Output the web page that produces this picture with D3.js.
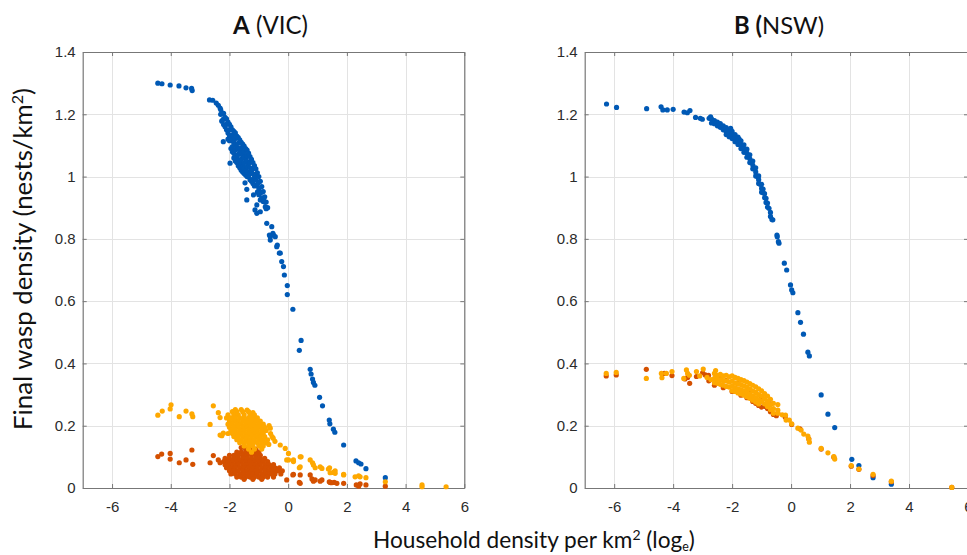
<!DOCTYPE html>
<html>
<head>
<meta charset="utf-8">
<script src="https://cdn.jsdelivr.net/npm/d3@7"></script>
<style>
  body { margin: 0; background: #fff; }
  svg { display: block; }
  .tick-label { font-family: "Liberation Sans", Arial, sans-serif; font-size: 15px; fill: #2b2b2b; }
  .label { font-family: Lato, "Open Sans", sans-serif; fill: #111; }
</style>
</head>
<body>
<svg id="chart" width="967" height="555"></svg>
<script>
'use strict';

// axis ticks
var xTicks = [-6, -4, -2, 0, 2, 4, 6];
var xTickLabels = ["-6", "-4", "-2", "0", "2", "4", "6"];
var yTicks = [0, 0.2, 0.4, 0.6, 0.8, 1, 1.2, 1.4];
var yTickLabels = ["0", "0.2", "0.4", "0.6", "0.8", "1", "1.2", "1.4"];

// panel A (VIC) - [log household density, final wasp density]
var vicBlue = [
  [-4.44,1.300],[-4.30,1.298],[-4.02,1.294],[-3.72,1.291],[-3.48,1.285],[-3.27,1.276],[-3.29,1.283],
  [-2.68,1.246],[-2.57,1.245],[-2.45,1.236],[-2.38,1.229],[-2.32,1.220],
  [-2.30,1.215],[-2.30,1.200],[-2.25,1.205],[-2.25,1.180],
  [-2.20,1.203],[-2.20,1.185],[-2.20,1.167],[-2.15,1.190],[-2.15,1.160],
  [-2.10,1.185],[-2.10,1.168],[-2.10,1.150],[-2.05,1.175],[-2.05,1.140],[-2.05,1.120],
  [-2.00,1.168],[-2.00,1.150],[-2.00,1.132],[-2.00,1.115],
  [-1.95,1.160],[-1.95,1.120],[-1.95,1.090],
  [-1.90,1.150],[-1.90,1.132],[-1.90,1.114],[-1.90,1.096],[-1.90,1.080],
  [-1.85,1.145],[-1.85,1.110],[-1.85,1.075],[-1.85,1.060],
  [-1.80,1.140],[-1.80,1.122],[-1.80,1.104],[-1.80,1.086],[-1.80,1.068],[-1.80,1.050],
  [-1.75,1.130],[-1.75,1.095],[-1.75,1.060],[-1.75,1.045],
  [-1.70,1.125],[-1.70,1.107],[-1.70,1.089],[-1.70,1.071],[-1.70,1.053],[-1.70,1.035],
  [-1.65,1.118],[-1.65,1.080],[-1.65,1.045],[-1.65,1.028],
  [-1.60,1.110],[-1.60,1.092],[-1.60,1.074],[-1.60,1.056],[-1.60,1.038],[-1.60,1.020],
  [-1.55,1.104],[-1.55,1.068],[-1.55,1.032],[-1.55,1.015],
  [-1.50,1.098],[-1.50,1.080],[-1.50,1.062],[-1.50,1.044],[-1.50,1.026],[-1.50,1.010],
  [-1.45,1.090],[-1.45,1.055],[-1.45,1.020],[-1.45,1.005],
  [-1.40,1.085],[-1.40,1.067],[-1.40,1.049],[-1.40,1.031],[-1.40,1.015],[-1.40,1.000],
  [-1.35,1.075],[-1.35,1.040],[-1.35,1.000],
  [-1.30,1.064],[-1.30,1.046],[-1.30,1.028],[-1.30,1.010],[-1.30,0.990],
  [-1.25,1.055],[-1.25,1.018],[-1.25,0.985],
  [-1.20,1.045],[-1.20,1.027],[-1.20,1.009],[-1.20,0.991],[-1.20,0.978],
  [-1.15,1.035],[-1.15,0.998],[-1.15,0.970],
  [-1.10,1.025],[-1.10,1.007],[-1.10,0.989],[-1.10,0.972],
  [-1.05,1.012],[-1.05,0.975],[-1.05,0.950],
  [-1.00,1.000],[-1.00,0.982],[-1.00,0.962],[-1.00,0.942],
  [-0.95,0.985],[-0.95,0.948],[-0.95,0.925],
  [-0.90,0.968],[-0.90,0.950],[-0.90,0.932],
  [-0.85,0.952],[-0.85,0.920],[-0.80,0.935],[-0.80,0.918],
  [-0.75,0.918],[-0.75,0.897],[-0.70,0.900],
  [-2.26,1.178],[-2.21,1.112],[-1.98,1.043],[-1.47,0.980],[-1.41,0.959],[-1.41,0.925],
  [-1.13,0.893],[-1.07,0.882],[-1.18,0.941],[-1.07,0.909],[-0.95,0.887],[-0.84,0.925],
  [-0.78,0.903],[-0.73,0.850],[-0.64,0.812],[-0.61,0.807],[-0.61,0.796],[-0.52,0.818],
  [-0.50,0.812],[-0.56,0.839],[-0.44,0.807],[-0.39,0.775],[-0.37,0.780],[-0.30,0.754],
  [-0.27,0.754],[-0.22,0.727],[-0.16,0.711],[-0.13,0.684],
  [-0.03,0.650],[-0.03,0.621],[0.16,0.574],[0.44,0.474],[0.38,0.442],[0.75,0.381],
  [0.78,0.366],[0.83,0.350],[0.86,0.339],[0.91,0.330],[1.07,0.291],[1.17,0.264],
  [1.40,0.218],[1.42,0.206],[1.54,0.189],[1.59,0.179],[1.89,0.138],[2.31,0.087],
  [2.40,0.081],[2.48,0.077],[2.65,0.062],[3.31,0.033]
];

var vicRed = [
  [-4.44,0.101],[-4.31,0.109],[-4.02,0.111],[-4.02,0.093],[-3.71,0.081],[-3.48,0.090],
  [-3.28,0.122],[-3.25,0.076],[-2.66,0.081],[-2.55,0.104],[-2.38,0.090],[-2.32,0.081],
  [-1.45,0.125],[-1.30,0.125],[-1.10,0.125],[-1.60,0.130],[-1.25,0.132],
  [-1.75,0.115],[-1.60,0.115],[-1.45,0.115],[-1.30,0.115],[-1.15,0.115],[-1.00,0.115],
  [-2.00,0.105],[-1.85,0.105],[-1.70,0.105],[-1.55,0.105],[-1.40,0.105],[-1.25,0.105],[-1.10,0.105],[-0.95,0.105],
  [-2.15,0.095],[-2.00,0.095],[-1.85,0.095],[-1.70,0.095],[-1.55,0.095],[-1.40,0.095],[-1.25,0.095],[-1.10,0.095],[-0.95,0.095],[-0.80,0.095],
  [-2.20,0.085],[-2.05,0.085],[-1.90,0.085],[-1.75,0.085],[-1.60,0.085],[-1.45,0.085],[-1.30,0.085],[-1.15,0.085],[-1.00,0.085],[-0.85,0.085],[-0.70,0.085],
  [-2.15,0.075],[-2.00,0.075],[-1.85,0.075],[-1.70,0.075],[-1.55,0.075],[-1.40,0.075],[-1.25,0.075],[-1.10,0.075],[-0.95,0.075],[-0.80,0.075],[-0.65,0.075],[-0.50,0.075],
  [-2.10,0.065],[-1.95,0.065],[-1.80,0.065],[-1.65,0.065],[-1.50,0.065],[-1.35,0.065],[-1.20,0.065],[-1.05,0.065],[-0.90,0.065],[-0.75,0.065],[-0.60,0.065],[-0.45,0.065],[-0.30,0.065],
  [-2.00,0.055],[-1.85,0.055],[-1.70,0.055],[-1.55,0.055],[-1.40,0.055],[-1.25,0.055],[-1.10,0.055],[-0.95,0.055],[-0.80,0.055],[-0.65,0.055],[-0.50,0.055],[-0.35,0.055],[-0.20,0.055],
  [-1.95,0.045],[-1.80,0.045],[-1.65,0.045],[-1.50,0.045],[-1.35,0.045],[-1.20,0.045],[-1.05,0.045],[-0.90,0.045],[-0.75,0.045],[-0.60,0.045],[-0.45,0.045],[-0.25,0.045],
  [-1.75,0.035],[-1.60,0.035],[-1.45,0.035],[-1.30,0.035],[-1.15,0.035],[-1.00,0.035],[-0.85,0.035],[-0.70,0.035],[-0.50,0.035],
  [-1.50,0.028],[-1.20,0.028],[-0.90,0.028],
  [-0.05,0.026],[0.16,0.042],[0.18,0.044],[0.38,0.018],[0.41,0.042],[0.41,0.015],[0.75,0.042],
  [0.81,0.029],[0.86,0.022],[0.92,0.026],[1.09,0.022],[1.15,0.026],[1.40,0.020],[1.43,0.018],
  [1.47,0.017],[1.57,0.018],[1.66,0.015],[1.89,0.015],[2.32,0.010],[2.40,0.006],[2.45,0.013],
  [2.65,0.010],[3.31,0.006]
];

var vicYellow = [
  [-4.44,0.234],[-4.29,0.247],[-4.02,0.254],[-3.99,0.267],[-3.71,0.229],[-3.48,0.247],
  [-3.28,0.238],[-3.25,0.229],[-2.66,0.204],[-2.55,0.264],[-2.38,0.242],[-2.32,0.226],
  [-2.26,0.168],[-2.21,0.176],[-2.32,0.170],
  [-1.80,0.252],[-1.60,0.252],[-1.40,0.250],
  [-1.90,0.245],[-1.75,0.245],[-1.55,0.245],[-1.35,0.245],[-1.20,0.242],
  [-2.05,0.235],[-1.85,0.235],[-1.70,0.235],[-1.50,0.235],[-1.30,0.235],[-1.15,0.235],
  [-2.10,0.225],[-1.95,0.225],[-1.80,0.225],[-1.65,0.225],[-1.50,0.225],[-1.35,0.225],[-1.20,0.225],[-1.05,0.225],
  [-2.00,0.215],[-1.85,0.215],[-1.70,0.215],[-1.55,0.215],[-1.40,0.215],[-1.25,0.215],[-1.10,0.215],[-0.95,0.215],
  [-2.05,0.205],[-1.90,0.205],[-1.75,0.205],[-1.60,0.205],[-1.45,0.205],[-1.30,0.205],[-1.15,0.205],[-1.00,0.205],[-0.85,0.205],
  [-2.00,0.195],[-1.85,0.195],[-1.70,0.195],[-1.55,0.195],[-1.40,0.195],[-1.25,0.195],[-1.10,0.195],[-0.95,0.195],[-0.80,0.195],
  [-1.95,0.185],[-1.80,0.185],[-1.65,0.185],[-1.50,0.185],[-1.35,0.185],[-1.20,0.185],[-1.05,0.185],[-0.90,0.185],[-0.75,0.185],
  [-2.05,0.175],[-1.90,0.175],[-1.75,0.175],[-1.60,0.175],[-1.45,0.175],[-1.30,0.175],[-1.15,0.175],[-1.00,0.175],[-0.85,0.175],
  [-1.85,0.165],[-1.70,0.165],[-1.55,0.165],[-1.40,0.165],[-1.25,0.165],[-1.10,0.165],[-0.95,0.165],[-0.80,0.165],
  [-1.75,0.155],[-1.60,0.155],[-1.45,0.155],[-1.30,0.155],[-1.15,0.155],[-1.00,0.155],[-0.85,0.155],[-0.70,0.155],
  [-1.65,0.145],[-1.50,0.145],[-1.35,0.145],[-1.20,0.145],[-1.05,0.145],[-0.90,0.145],[-0.75,0.145],
  [-1.50,0.135],[-1.35,0.135],[-1.20,0.135],[-1.00,0.135],[-0.85,0.135],
  [-1.35,0.125],[-1.15,0.125],[-0.90,0.125],[-1.25,0.115],
  [-0.65,0.200],[-0.60,0.175],[-0.55,0.165],[-0.66,0.140],
  [-0.61,0.192],[-0.51,0.160],[-0.45,0.150],[-0.27,0.138],[-0.10,0.127],[0.01,0.111],[0.01,0.090],
  [-0.05,0.090],[0.18,0.085],[0.18,0.090],[0.38,0.065],[0.41,0.100],[0.44,0.100],[0.41,0.068],
  [0.75,0.090],[0.83,0.081],[0.86,0.074],[0.92,0.065],[1.09,0.068],[1.15,0.063],[1.37,0.061],
  [1.41,0.065],[1.43,0.049],[1.54,0.050],[1.60,0.055],[1.60,0.047],[1.89,0.044],[1.89,0.042],
  [2.28,0.036],[2.40,0.039],[2.45,0.036],[2.65,0.033],[3.31,0.020],[4.56,0.010],[4.56,0.004],
  [5.38,0.004]
];

// panel B (NSW)
var nswBlue = [
  [-6.26,1.233],[-5.92,1.222],[-4.90,1.218],[-4.41,1.224],[-4.35,1.214],[-4.20,1.214],
  [-4.00,1.216],[-3.63,1.207],[-3.52,1.205],[-3.43,1.212],[-3.24,1.190],[-3.08,1.187],
  [-3.01,1.184],[-2.78,1.187],[-2.73,1.192],
  [-2.70,1.185],[-2.70,1.172],[-2.60,1.180],[-2.60,1.170],[-2.55,1.172],
  [-2.50,1.175],[-2.50,1.163],[-2.40,1.170],[-2.40,1.158],[-2.35,1.160],
  [-2.30,1.163],[-2.30,1.150],[-2.20,1.157],[-2.20,1.145],[-2.20,1.135],[-2.15,1.148],
  [-2.10,1.150],[-2.10,1.138],[-2.10,1.128],[-2.05,1.155],
  [-2.00,1.145],[-2.00,1.133],[-2.00,1.122],[-1.95,1.130],
  [-1.90,1.135],[-1.90,1.123],[-1.90,1.112],
  [-1.80,1.127],[-1.80,1.115],[-1.80,1.103],[-1.76,1.120],[-1.75,1.110],
  [-1.70,1.115],[-1.70,1.103],[-1.70,1.090],
  [-1.60,1.102],[-1.60,1.090],[-1.60,1.078],[-1.55,1.082],
  [-1.50,1.088],[-1.50,1.075],[-1.50,1.062],
  [-1.40,1.070],[-1.40,1.057],[-1.40,1.045],[-1.35,1.048],
  [-1.30,1.050],[-1.30,1.037],[-1.30,1.025],
  [-1.20,1.028],[-1.20,1.015],[-1.20,1.002],[-1.15,1.000],
  [-1.10,1.002],[-1.10,0.990],[-1.10,0.978],[-1.05,0.975],
  [-1.00,0.975],[-1.00,0.962],[-1.00,0.950],
  [-0.95,0.960],[-0.95,0.948],[-0.90,0.945],[-0.90,0.932],
  [-0.85,0.930],[-0.85,0.917],[-0.80,0.915],[-0.80,0.902],[-0.75,0.898],
  [-0.70,0.885],[-0.70,0.872],[-0.65,0.862],[-0.62,0.861],
  [-0.48,0.812],[-0.47,0.807],[-0.43,0.791],[-0.41,0.786],[-0.23,0.722],[-0.15,0.700],
  [-0.02,0.652],[0.02,0.636],[0.06,0.627],[0.23,0.563],[0.32,0.532],[0.42,0.494],
  [0.57,0.436],[0.62,0.424],[1.02,0.299],[1.25,0.237],[1.48,0.194],[2.06,0.092],
  [2.30,0.072],[2.78,0.033],[3.40,0.012]
];

var nswRed = [
  [-6.27,0.360],[-5.93,0.363],[-4.91,0.381],[-4.30,0.368],[-4.04,0.361],[-3.60,0.350],
  [-3.51,0.355],[-3.44,0.336],[-3.21,0.358],[-3.00,0.370],[-2.91,0.363],[-2.79,0.344],
  [-2.80,0.362],[-2.50,0.360],[-2.40,0.355],[-2.20,0.345],[-1.80,0.335],[-1.40,0.315],
  [-1.00,0.290],[-0.70,0.270],
  [-2.60,0.330],[-2.30,0.322],[-2.00,0.310],[-1.70,0.298],[-1.50,0.290],[-1.30,0.278],
  [-1.20,0.272],[-1.10,0.265],[-1.00,0.260],[-0.90,0.262],[-0.80,0.255],[-0.70,0.245],
  [-0.60,0.236],[-0.50,0.232],[-0.45,0.240],
  [-0.20,0.228],[0.02,0.204],[0.30,0.190],[0.60,0.158],[1.02,0.125],[1.45,0.099],
  [2.04,0.070],[2.30,0.060],[2.78,0.040],[3.40,0.020],[5.45,0.002]
];

var nswYellow = [
  [-6.27,0.368],[-5.93,0.371],[-4.91,0.352],[-4.40,0.368],[-4.38,0.354],[-4.23,0.368],
  [-4.04,0.374],[-3.64,0.352],[-3.55,0.379],[-3.51,0.368],[-3.45,0.362],[-3.21,0.374],
  [-3.10,0.360],[-2.98,0.382],[-2.85,0.355],[-2.72,0.348],[-2.56,0.377],
  [-2.60,0.368],[-2.60,0.352],[-2.60,0.338],
  [-2.50,0.362],[-2.50,0.350],[-2.50,0.336],
  [-2.40,0.365],[-2.40,0.348],[-2.40,0.333],
  [-2.30,0.360],[-2.30,0.345],[-2.30,0.330],
  [-2.20,0.362],[-2.20,0.344],[-2.20,0.326],
  [-2.10,0.357],[-2.10,0.340],[-2.10,0.324],
  [-2.00,0.360],[-2.00,0.343],[-2.00,0.327],[-2.00,0.312],
  [-1.90,0.355],[-1.90,0.338],[-1.90,0.322],[-1.90,0.310],
  [-1.80,0.352],[-1.80,0.335],[-1.80,0.318],[-1.80,0.305],
  [-1.70,0.348],[-1.70,0.332],[-1.70,0.316],[-1.70,0.302],
  [-1.60,0.345],[-1.60,0.328],[-1.60,0.312],[-1.60,0.298],
  [-1.50,0.340],[-1.50,0.323],[-1.50,0.307],[-1.50,0.293],
  [-1.40,0.335],[-1.40,0.318],[-1.40,0.302],[-1.40,0.288],
  [-1.30,0.330],[-1.30,0.312],[-1.30,0.296],[-1.30,0.282],
  [-1.20,0.325],[-1.20,0.307],[-1.20,0.290],[-1.20,0.276],
  [-1.10,0.318],[-1.10,0.300],[-1.10,0.284],[-1.10,0.270],
  [-1.00,0.312],[-1.00,0.295],[-1.00,0.278],
  [-0.90,0.303],[-0.90,0.287],[-0.90,0.270],
  [-0.80,0.295],[-0.80,0.278],[-0.80,0.262],
  [-0.70,0.285],[-0.70,0.268],[-0.70,0.252],
  [-0.60,0.272],[-0.60,0.255],[-0.60,0.240],
  [-0.45,0.268],[-0.45,0.250],[-0.45,0.240],
  [-0.30,0.235],[-0.19,0.234],[-0.17,0.218],[-0.06,0.218],[0.02,0.206],[0.23,0.192],
  [0.34,0.186],[0.43,0.173],[0.57,0.167],[0.60,0.157],[0.62,0.147],[1.02,0.127],
  [1.25,0.113],[1.45,0.101],[1.48,0.093],[2.04,0.072],[2.30,0.061],[2.78,0.044],
  [3.40,0.022],[5.45,0.002]
];

var seriesColors = ["#0059b5", "#d45000", "#fea800"];

var panels = [
  { bold: "A", rest: " (VIC)", left: 82.7, right: 464.3, titleX: 270.5, titleW: 75,
    series: [vicBlue, vicRed, vicYellow] },
  { bold: "B (", rest: "NSW)", left: 584.7, right: 968, titleX: 779, titleW: 90,
    series: [nswBlue, nswRed, nswYellow] }
];

var svg = d3.select("#chart");
var plotTop = 52, plotBottom = 488;

var y = d3.scaleLinear().domain([0, 1.4]).range([plotBottom, plotTop]);

// scale a text's font so that it spans the width seen in the picture
function fitText(sel, target) {
  var len = sel.node().getComputedTextLength();
  var fs = parseFloat(sel.style("font-size"));
  sel.style("font-size", (fs * target / len).toFixed(2) + "px");
}

panels.forEach(function (p) {
  var x = d3.scaleLinear().domain([-7, 6]).range([p.left, p.right]);
  var g = svg.append("g");

  // grid
  g.append("g").selectAll("line").data(xTicks).enter().append("line")
    .attr("x1", function (d) { return Math.round(x(d)) + 0.5; })
    .attr("x2", function (d) { return Math.round(x(d)) + 0.5; })
    .attr("y1", plotTop).attr("y2", plotBottom)
    .attr("stroke", "#e3e3e3").attr("stroke-width", 1);
  g.append("g").selectAll("line").data(yTicks.slice(1, -1)).enter().append("line")
    .attr("x1", p.left).attr("x2", p.right)
    .attr("y1", function (d) { return Math.round(y(d)) + 0.5; })
    .attr("y2", function (d) { return Math.round(y(d)) + 0.5; })
    .attr("stroke", "#e3e3e3").attr("stroke-width", 1);

  // axes, MATLAB style: ticks inside, box on
  var axB = d3.axisBottom(x).tickValues(xTicks).tickSizeInner(-4).tickSizeOuter(0)
    .tickPadding(13).tickFormat(function (d, i) { return xTickLabels[i]; });
  var axT = d3.axisTop(x).tickValues(xTicks).tickSizeInner(-4).tickSizeOuter(0).tickFormat("");
  var axL = d3.axisLeft(y).tickValues(yTicks).tickSizeInner(-4).tickSizeOuter(0)
    .tickPadding(7).tickFormat(function (d, i) { return yTickLabels[i]; });
  var axR = d3.axisRight(y).tickValues(yTicks).tickSizeInner(-4).tickSizeOuter(0).tickFormat("");

  [[axB, "translate(0," + plotBottom + ")"], [axT, "translate(0," + plotTop + ")"],
   [axL, "translate(" + p.left + ",0)"], [axR, "translate(" + p.right + ",0)"]]
    .forEach(function (a) {
      var ag = g.append("g").attr("transform", a[1]).call(a[0]);
      ag.select(".domain").attr("stroke", "#777").attr("stroke-width", 1.2);
      ag.selectAll(".tick line").attr("stroke", "#777");
      ag.selectAll(".tick text").attr("class", "tick-label").attr("fill", null);
    });

  // points
  p.series.forEach(function (pts, si) {
    g.append("g").selectAll("circle").data(pts).enter().append("circle")
      .attr("cx", function (d) { return x(d[0]); })
      .attr("cy", function (d) { return y(d[1]); })
      .attr("r", 2.6)
      .attr("fill", seriesColors[si]);
  });

  // title
  var t = svg.append("text").attr("class", "label")
    .attr("x", p.titleX).attr("y", 34)
    .attr("text-anchor", "middle").style("font-size", "22px");
  t.append("tspan").attr("font-weight", "bold").text(p.bold);
  t.append("tspan").text(p.rest);
  fitText(t, p.titleW);
});

// y label
var yl = svg.append("text").attr("class", "label")
  .attr("transform", "translate(32,259) rotate(-90)")
  .attr("text-anchor", "middle").style("font-size", "22px");
yl.append("tspan").text("Final wasp density (nests/km");
yl.append("tspan").attr("baseline-shift", "super").style("font-size", "0.62em").text("2");
yl.append("tspan").text(")");
fitText(yl, 342);

// x label
var xl = svg.append("text").attr("class", "label")
  .attr("x", 534).attr("y", 548)
  .attr("text-anchor", "middle").style("font-size", "22px");
xl.append("tspan").text("Household density per km");
xl.append("tspan").attr("baseline-shift", "8px").style("font-size", "0.62em").text("2");
xl.append("tspan").text(" (log");
xl.append("tspan").attr("baseline-shift", "-3px").style("font-size", "0.55em").text("e");
xl.append("tspan").text(")");
fitText(xl, 322);
</script>
</body>
</html>
